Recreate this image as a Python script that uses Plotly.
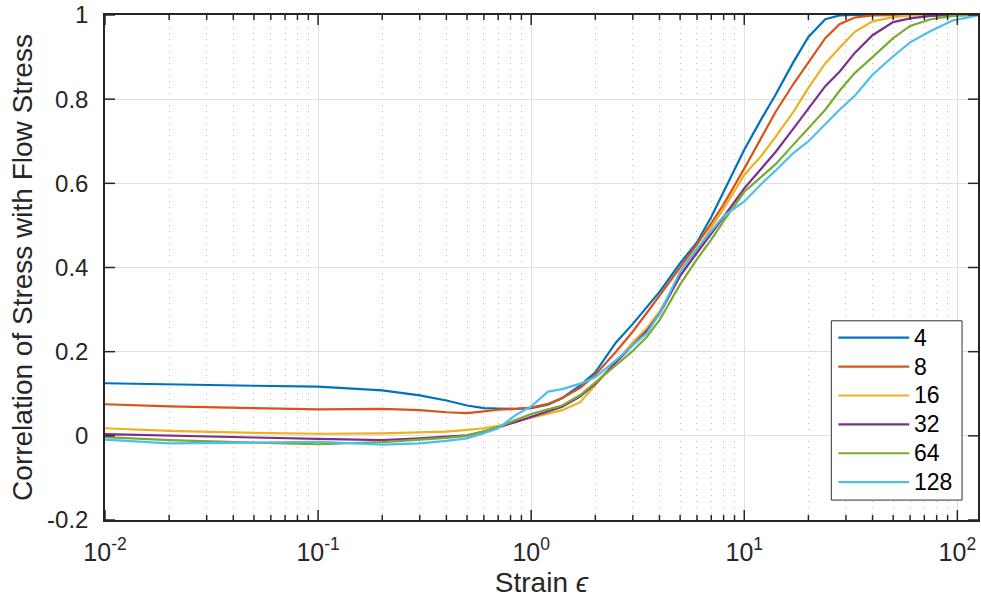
import math
import plotly.graph_objects as go

# ---------------- data ----------------
strain = [0.01, 0.02, 0.05, 0.1, 0.2, 0.3, 0.4, 0.5, 0.6, 0.7, 0.85, 1.0, 1.2, 1.4, 1.7,
          2.0, 2.5, 3.0, 3.5, 4.0, 5.0, 6.0, 7.0, 8.0, 10, 12, 14, 17, 20, 24, 28, 33,
          40, 50, 60, 75, 95, 125]

corr_4 = [0.125, 0.122, 0.119, 0.117, 0.108, 0.096, 0.084, 0.072, 0.066, 0.065,
          0.064, 0.066, 0.074, 0.090, 0.120, 0.151, 0.222, 0.266, 0.307, 0.342,
          0.410, 0.460, 0.520, 0.580, 0.680, 0.752, 0.810, 0.888, 0.948, 0.990,
          0.999, 1.0, 1.0, 1.0, 1.0, 1.0, 1.0, 1.0]
corr_8 = [0.075, 0.070, 0.066, 0.063, 0.064, 0.061, 0.056, 0.054, 0.058, 0.062,
          0.064, 0.067, 0.076, 0.090, 0.114, 0.145, 0.200, 0.248, 0.293, 0.333,
          0.400, 0.455, 0.505, 0.550, 0.635, 0.707, 0.769, 0.836, 0.888, 0.945,
          0.978, 0.994, 0.999, 1.0, 1.0, 1.0, 1.0, 1.0]
corr_16 = [0.018, 0.012, 0.007, 0.005, 0.006, 0.008, 0.010, 0.014, 0.018, 0.024,
           0.034, 0.044, 0.053, 0.061, 0.080, 0.120, 0.175, 0.222, 0.257, 0.295,
           0.380, 0.440, 0.495, 0.540, 0.620, 0.665, 0.710, 0.770, 0.827, 0.885,
           0.922, 0.960, 0.985, 0.995, 0.999, 1.0, 1.0, 1.0]
corr_32 = [0.004, 0.000, -0.004, -0.007, -0.010, -0.006, -0.003, 0.001, 0.010, 0.020,
           0.033, 0.045, 0.058, 0.069, 0.094, 0.124, 0.175, 0.215, 0.250, 0.290,
           0.380, 0.435, 0.480, 0.520, 0.588, 0.635, 0.674, 0.730, 0.778, 0.831,
           0.865, 0.910, 0.952, 0.983, 0.992, 0.998, 1.0, 1.0]
corr_64 = [-0.003, -0.010, -0.016, -0.020, -0.015, -0.010, -0.005, 0.000, 0.010, 0.020,
           0.038, 0.052, 0.063, 0.072, 0.097, 0.127, 0.170, 0.202, 0.236, 0.275,
           0.360, 0.420, 0.466, 0.510, 0.580, 0.615, 0.645, 0.692, 0.730, 0.775,
           0.820, 0.862, 0.900, 0.945, 0.974, 0.990, 0.998, 1.0]
corr_128 = [-0.009, -0.018, -0.016, -0.014, -0.021, -0.018, -0.012, -0.006, 0.006, 0.018,
            0.050, 0.070, 0.105, 0.111, 0.124, 0.139, 0.180, 0.215, 0.245, 0.290,
            0.390, 0.445, 0.487, 0.522, 0.557, 0.598, 0.630, 0.672, 0.700, 0.742,
            0.775, 0.808, 0.858, 0.902, 0.935, 0.962, 0.987, 0.999]

series_names = ["4", "8", "16", "32", "64", "128"]
series_values = [corr_4, corr_8, corr_16, corr_32, corr_64, corr_128]
colors = ["#0072BD", "#D95319", "#EDB120", "#7E2F8E", "#77AC30", "#4DBEEE"]

x_tick_vals = [0.01, 0.1, 1, 10, 100]
x_tick_text = ["10<sup>-2</sup>", "10<sup>-1</sup>", "10<sup>0</sup>", "10<sup>1</sup>", "10<sup>2</sup>"]
y_tick_vals = [-0.2, 0, 0.2, 0.4, 0.6, 0.8, 1.0]
y_tick_text = ["-0.2", "0", "0.2", "0.4", "0.6", "0.8", "1"]

# ---------------- layout constants ----------------
W, H = 981, 601
ML, MR, MT, MB = 105, 1, 13, 81
PW, PH = W - ML - MR, H - MT - MB
FONT = "Liberation Sans, Arial, Helvetica, sans-serif"
AX = "#262626"
GRID = "#dfdfdf"
X_RANGE = [-2, math.log10(125)]
Y_RANGE = [-0.2, 1.0]

def px2paper_x(px):
    return (px - ML) / PW

def py2paper_y(py):
    return (H - MB - py) / PH

fig = go.Figure()
for name, vals, col in zip(series_names, series_values, colors):
    fig.add_trace(go.Scatter(x=strain, y=vals, mode="lines", name=name,
                             line=dict(color=col, width=2.2), showlegend=False))

minor_vals = [k * 10.0 ** e for e in range(-2, 3) for k in range(2, 10)
              if k * 10.0 ** e < 10 ** X_RANGE[1]]

fig.update_layout(
    width=W, height=H,
    margin=dict(l=ML, r=MR, t=MT, b=MB),
    paper_bgcolor="white", plot_bgcolor="white",
    font=dict(family=FONT, color=AX, size=22),
    xaxis=dict(
        type="log", range=X_RANGE,
        tickmode="array", tickvals=x_tick_vals, ticktext=x_tick_text,
        ticks="", showline=True, linecolor=AX, linewidth=1.5, mirror=True,
        showgrid=True, gridcolor=GRID, gridwidth=1,
        zeroline=False,
        tickfont=dict(size=25, family=FONT, color=AX),
        ticklabelstandoff=9, ticklabeloverflow="allow",
        minor=dict(tickmode="array", tickvals=minor_vals, showgrid=True,
                   gridcolor="#b8b8b8", griddash="1px,5px", gridwidth=1),
        title=dict(text="Strain <i>ϵ</i>", font=dict(size=28, family=FONT, color=AX), standoff=8),
    ),
    yaxis=dict(
        range=Y_RANGE,
        tickmode="array", tickvals=y_tick_vals, ticktext=y_tick_text,
        ticks="", showline=True, linecolor=AX, linewidth=1.5, mirror=True,
        showgrid=True, gridcolor=GRID, gridwidth=1,
        zeroline=False,
        tickfont=dict(size=24, family=FONT, color=AX),
        ticklabelstandoff=10, ticklabeloverflow="allow",
        title=dict(text="Correlation of Stress with Flow Stress",
                   font=dict(size=28, family=FONT, color=AX), standoff=6),
    ),
)

# ---------------- inside tick marks on all four sides (MATLAB box) ----------------
def xfrac(v):
    return (math.log10(v) - X_RANGE[0]) / (X_RANGE[1] - X_RANGE[0])

def yfrac(v):
    return (v - Y_RANGE[0]) / (Y_RANGE[1] - Y_RANGE[0])

tick_shapes = []
for vals, length in ((x_tick_vals, 10), (minor_vals, 5)):
    L = length / PH
    for v in vals:
        xf = xfrac(v)
        if xf > 1.0001:
            continue
        for y0, y1 in ((0, L), (1 - L, 1)):
            tick_shapes.append(dict(type="line", xref="paper", yref="paper",
                                    x0=xf, x1=xf, y0=y0, y1=y1,
                                    line=dict(color=AX, width=1.5), layer="above"))
Lx = 10 / PW
for v in y_tick_vals:
    yf = yfrac(v)
    for x0, x1 in ((0, Lx), (1 - Lx, 1)):
        tick_shapes.append(dict(type="line", xref="paper", yref="paper",
                                x0=x0, x1=x1, y0=yf, y1=yf,
                                line=dict(color=AX, width=1.5), layer="above"))

# ---------------- custom legend (MATLAB style) ----------------
box_l, box_r, box_t, box_b = 833, 964, 320, 500
legend_shapes = [dict(type="rect", xref="paper", yref="paper",
                      x0=px2paper_x(box_l), x1=px2paper_x(box_r),
                      y0=py2paper_y(box_b), y1=py2paper_y(box_t),
                      line=dict(color="#333333", width=1), fillcolor="white", layer="above")]
row0, row_step = 337, 29
for i, (name, col) in enumerate(zip(series_names, colors)):
    yc = row0 + i * row_step
    legend_shapes.append(dict(type="line", xref="paper", yref="paper",
                              x0=px2paper_x(840), x1=px2paper_x(911),
                              y0=py2paper_y(yc), y1=py2paper_y(yc),
                              line=dict(color=col, width=2.2), layer="above"))
    fig.add_annotation(xref="paper", yref="paper",
                       x=px2paper_x(914), y=py2paper_y(yc),
                       text=name, showarrow=False, xanchor="left", yanchor="middle",
                       font=dict(size=23, family=FONT, color="black"))

fig.update_layout(shapes=tick_shapes + legend_shapes)

fig.write_html("out.html")
